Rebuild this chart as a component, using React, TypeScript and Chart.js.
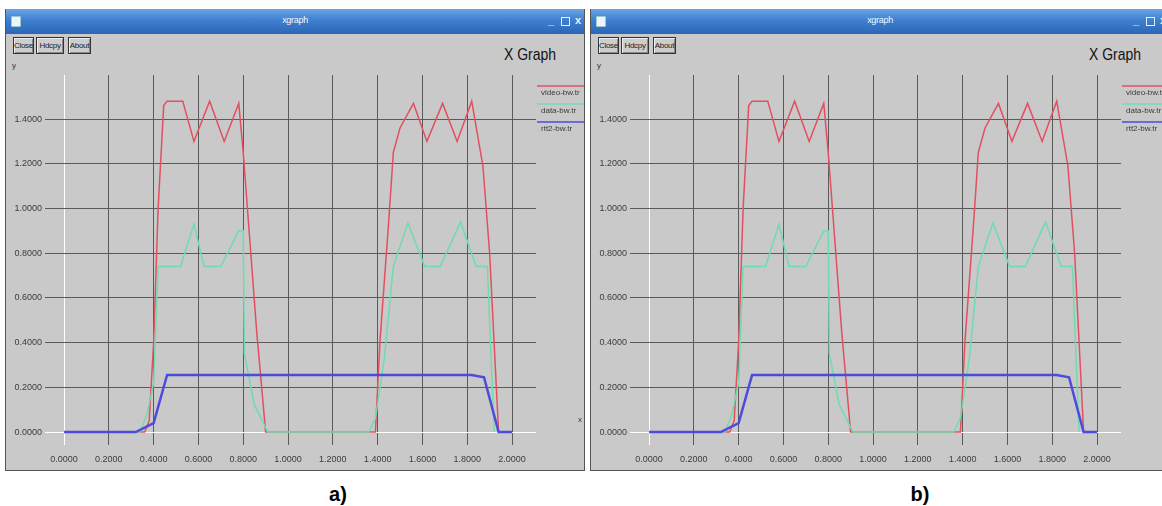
import React, { useEffect, useRef } from "react";
import { Chart, registerables } from "chart.js";

Chart.register(...registerables);

// ---- data ----
const videoX = [0, 0.36, 0.38, 0.40, 0.42, 0.445, 0.46, 0.53, 0.58, 0.65, 0.715, 0.78, 0.80, 0.83, 0.86, 0.90, 1.39, 1.41, 1.45, 1.47, 1.50, 1.56, 1.62, 1.69, 1.755, 1.82, 1.87, 1.90, 1.94];
const videoY = [0, 0, 0.05, 0.4, 1.0, 1.46, 1.48, 1.48, 1.30, 1.48, 1.30, 1.47, 1.25, 0.85, 0.45, 0, 0, 0.4, 0.95, 1.25, 1.36, 1.47, 1.30, 1.47, 1.30, 1.48, 1.19, 0.80, 0];

const dataX = [0, 0.34, 0.37, 0.40, 0.42, 0.52, 0.58, 0.625, 0.70, 0.78, 0.80, 0.805, 0.85, 0.91, 1.36, 1.39, 1.43, 1.47, 1.535, 1.61, 1.68, 1.77, 1.84, 1.89, 1.92];
const dataY = [0, 0, 0.08, 0.22, 0.74, 0.74, 0.93, 0.74, 0.74, 0.90, 0.90, 0.35, 0.12, 0, 0, 0.06, 0.33, 0.74, 0.935, 0.74, 0.74, 0.94, 0.74, 0.74, 0];

const rttX = [0, 0.32, 0.40, 0.46, 1.82, 1.875, 1.94, 2.0];
const rttY = [0, 0, 0.04, 0.255, 0.255, 0.245, 0, 0];

const xTicks = [0, 0.2, 0.4, 0.6, 0.8, 1.0, 1.2, 1.4, 1.6, 1.8, 2.0];
const yTicks = [0, 0.2, 0.4, 0.6, 0.8, 1.0, 1.2, 1.4];

const seriesLabels = ["video-bw.tr", "data-bw.tr", "rtt2-bw.tr"];
const panelLabels = ["a)", "b)"];
const buttonLabels = ["Close", "Hdcpy", "About"];

const RED = "#e2505e";
const GREEN = "#6fdcb0";
const BLUE = "#4c4cdc";
const BG = "#c9c9c9";
const GRID = "#5a5a5a";
const FONT = "'Liberation Sans', Arial, sans-serif";

const WIN_W = 580;
const WIN_H = 462;
const CANVAS_H = 436;

const legendPlugin = {
  id: "xgLegend",
  afterDraw(chart: any) {
    const ctx = chart.ctx;
    const x0 = chart.chartArea.right;
    const x1 = chart.width;
    chart.data.datasets.forEach((ds: any, i: number) => {
      const y = 52 + i * 18;
      ctx.save();
      ctx.strokeStyle = ds.borderColor;
      ctx.lineWidth = 1.5;
      ctx.beginPath();
      ctx.moveTo(x0 + 1, y);
      ctx.lineTo(x1, y);
      ctx.stroke();
      ctx.fillStyle = "#3a3a3a";
      ctx.font = `8px ${FONT}`;
      ctx.textBaseline = "middle";
      ctx.fillText(ds.label, x0 + 5, y + 7);
      ctx.restore();
    });
  },
};

function XGraphPanel() {
  const ref = useRef<HTMLCanvasElement | null>(null);
  useEffect(() => {
    if (!ref.current) return;
    const mk = (xs: number[], ys: number[]) => xs.map((x, i) => ({ x, y: ys[i] }));
    const gridColor = (c: any) => (c.tick && Math.abs(c.tick.value) < 1e-9 ? "#ffffff" : GRID);
    const chart = new Chart(ref.current, {
      type: "line",
      data: {
        datasets: [
          { label: seriesLabels[0], data: mk(videoX, videoY), borderColor: RED, borderWidth: 1.5, pointRadius: 0, tension: 0, fill: false, order: 3 },
          { label: seriesLabels[1], data: mk(dataX, dataY), borderColor: GREEN, borderWidth: 1.5, pointRadius: 0, tension: 0, fill: false, order: 2 },
          { label: seriesLabels[2], data: mk(rttX, rttY), borderColor: BLUE, borderWidth: 2.5, pointRadius: 0, tension: 0, fill: false, order: 1 },
        ],
      },
      options: {
        animation: false,
        responsive: false,
        maintainAspectRatio: false,
        layout: { padding: { left: 0, top: 41, right: 50, bottom: 0 } },
        plugins: { legend: { display: false }, tooltip: { enabled: false } },
        scales: {
          x: {
            type: "linear",
            min: -0.085,
            max: 2.107,
            afterBuildTicks: (s: any) => {
              s.ticks = xTicks.map((v) => ({ value: v }));
            },
            afterFit: (s: any) => {
              s.height = 25;
            },
            grid: { color: gridColor, drawTicks: false, lineWidth: 1 },
            border: { display: false },
            ticks: {
              padding: 9,
              color: "#3c3c3c",
              font: { family: FONT, size: 9 },
              maxRotation: 0,
              autoSkip: false,
              callback: (v: any) => Number(v).toFixed(4),
            },
          },
          y: {
            type: "linear",
            min: -0.058,
            max: 1.597,
            afterBuildTicks: (s: any) => {
              s.ticks = yTicks.map((v) => ({ value: v }));
            },
            afterFit: (s: any) => {
              s.width = 39;
            },
            grid: { color: gridColor, drawTicks: false, lineWidth: 1 },
            border: { display: false },
            ticks: {
              padding: 3,
              color: "#3c3c3c",
              font: { family: FONT, size: 9 },
              autoSkip: false,
              callback: (v: any) => Number(v).toFixed(4),
            },
          },
        },
      },
      plugins: [legendPlugin],
    } as any);
    return () => chart.destroy();
  }, []);

  return (
    <div
      style={{
        position: "absolute",
        left: 0,
        top: 0,
        width: WIN_W,
        height: WIN_H,
        background: BG,
        boxSizing: "border-box",
        border: "1px solid #555",
        borderTop: "none",
        overflow: "hidden",
      }}
    >
      {/* title bar */}
      <div
        style={{
          position: "absolute",
          left: 0,
          top: 0,
          width: "100%",
          height: 25,
          background: "linear-gradient(#6aa6e6, #3f7fcf 45%, #2c66b6)",
        }}
      >
        <div style={{ position: "absolute", left: 5, top: 7, width: 8, height: 9, background: "#eef4ff", border: "1px solid #9cc", borderRadius: 1 }} />
        <div
          style={{
            position: "absolute",
            left: 0,
            width: "100%",
            top: 6,
            textAlign: "center",
            color: "#f4f8ff",
            font: `9px ${FONT}`,
            letterSpacing: -0.3,
          }}
        >
          xgraph
        </div>
        <div style={{ position: "absolute", left: 542, top: 5, color: "#e8f0ff", font: `bold 11px ${FONT}` }}>_</div>
        <div style={{ position: "absolute", left: 555, top: 8, width: 7, height: 7, border: "1px solid #e8f0ff" }} />
        <div style={{ position: "absolute", left: 569, top: 5, color: "#e8f0ff", font: `bold 11px ${FONT}` }}>x</div>
      </div>
      {/* buttons */}
      {buttonLabels.map((b, i) => (
        <div
          key={b}
          style={{
            position: "absolute",
            left: [7, 30, 62][i],
            top: 28,
            width: [21, 28, 23][i],
            height: 17,
            boxSizing: "border-box",
            border: "1px solid #333",
            boxShadow: "inset 1px 1px 0 #eee, inset -1px -1px 0 #888",
            background: "#cdcdcd",
            font: `8px ${FONT}`,
            color: "#222",
            textAlign: "center",
            lineHeight: "15px",
            letterSpacing: -0.3,
          }}
        >
          {b}
        </div>
      ))}
      {/* title */}
      <div
        style={{
          position: "absolute",
          left: 498,
          top: 36,
          font: `17px ${FONT}`,
          color: "#111",
          transform: "scaleX(0.82)",
          transformOrigin: "left top",
          whiteSpace: "nowrap",
        }}
      >
        X Graph
      </div>
      <div style={{ position: "absolute", left: 6, top: 52, font: `8px ${FONT}`, color: "#333" }}>y</div>
      <canvas
        ref={ref}
        width={WIN_W}
        height={CANVAS_H}
        style={{ position: "absolute", left: 0, top: 25, width: WIN_W, height: CANVAS_H, zIndex: 0 }}
      />
      <div style={{ position: "absolute", left: 572, top: 406, font: `8px ${FONT}`, color: "#333", zIndex: 1 }}>x</div>
    </div>
  );
}

export default function App() {
  return (
    <div
      style={{
        position: "fixed",
        left: 0,
        top: 0,
        width: 1162,
        height: 506,
        background: "#ffffff",
        overflow: "hidden",
      }}
    >
      {panelLabels.map((lab, i) => (
        <React.Fragment key={lab}>
          <div style={{ position: "absolute", left: 5 + i * 585, top: 9, width: WIN_W, height: WIN_H }}>
            <XGraphPanel />
          </div>
          <div
            style={{
              position: "absolute",
              left: 338 + i * 582 - 15,
              width: 30,
              top: 483,
              textAlign: "center",
              font: `bold 20px ${FONT}`,
              color: "#000",
            }}
          >
            {lab}
          </div>
        </React.Fragment>
      ))}
    </div>
  );
}
